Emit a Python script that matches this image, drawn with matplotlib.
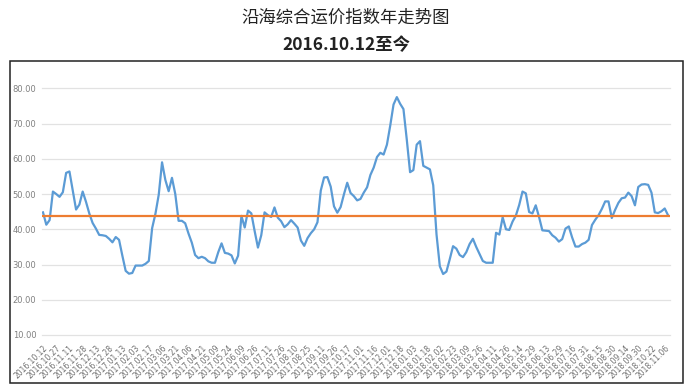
import matplotlib
matplotlib.use("Agg")
from matplotlib import pyplot as plt
from matplotlib.patches import Rectangle

plt.rcParams['font.family'] = ['Noto Sans CJK SC', 'DejaVu Sans']

# Index values (about 3 trading days per point).
index_values = [
    44.8, 41.3, 42.6, 50.7, 50.0, 49.2, 50.5, 56.0, 56.4, 51.0,
    45.6, 47.0, 50.7, 47.8, 44.5, 41.8, 40.2, 38.4, 38.3, 38.1,
    37.3, 36.3, 37.8, 37.0, 32.5, 28.2, 27.4, 27.6, 29.7, 29.7,
    29.7, 30.2, 31.0, 40.3, 44.4, 49.8, 59.0, 54.0, 50.8, 54.6,
    50.0, 42.4, 42.4, 41.7, 38.8, 36.2, 32.7, 31.8, 32.2, 31.8,
    30.9, 30.5, 30.5, 33.5, 36.0, 33.3, 33.1, 32.6, 30.3, 32.5,
    43.8, 40.5, 45.3, 44.5, 39.5, 34.8, 38.3, 44.8, 44.0, 43.5,
    46.2, 43.3, 42.3, 40.6, 41.4, 42.6, 41.6, 40.5, 36.8, 35.3,
    37.5, 38.9, 40.0, 42.0, 51.0, 54.7, 54.8, 52.1, 46.5, 44.7,
    46.3, 49.9, 53.2, 50.3, 49.4, 48.2, 48.6, 50.4, 51.9, 55.4,
    57.5, 60.5, 61.7, 61.2, 64.0, 69.4, 75.4, 77.5, 75.6, 74.1,
    65.5, 56.2, 56.8, 64.0, 65.0, 58.0, 57.5, 57.0, 52.5, 38.5,
    29.5, 27.3, 28.0, 31.5, 35.2, 34.5, 32.7, 32.1, 33.5, 35.8,
    37.3, 35.0, 33.0, 31.0, 30.5, 30.5, 30.5, 39.0, 38.5, 43.4,
    40.0, 39.8, 42.2, 43.9, 46.9, 50.7, 50.2, 44.9, 44.5, 46.8,
    43.5, 39.7, 39.6, 39.5, 38.3, 37.6, 36.5, 37.2, 40.2, 40.8,
    37.7, 35.1, 35.1, 35.8, 36.2, 37.0, 41.2, 42.7, 44.0, 45.8,
    47.9, 47.9, 43.2, 45.5, 47.5, 48.8, 49.0, 50.4, 49.4, 46.8,
    52.0, 52.7, 52.8, 52.6, 50.4, 44.8, 44.6, 45.1, 45.9, 44.0,
]
average_value = 43.7

date_labels = [
    '2016.10.12', '2016.10.27', '2016.11.11', '2016.11.28', '2016.12.13', '2016.12.28',
    '2017.01.13', '2017.02.03', '2017.02.17', '2017.03.06', '2017.03.21', '2017.04.06',
    '2017.04.21', '2017.05.09', '2017.05.24', '2017.06.09', '2017.06.26', '2017.07.11',
    '2017.07.26', '2017.08.10', '2017.08.25', '2017.09.11', '2017.09.26', '2017.10.17',
    '2017.11.01', '2017.11.16', '2017.12.01', '2017.12.18', '2018.01.03', '2018.01.18',
    '2018.02.02', '2018.02.23', '2018.03.09', '2018.03.26', '2018.04.11', '2018.04.26',
    '2018.05.14', '2018.05.29', '2018.06.13', '2018.06.29', '2018.07.16', '2018.07.31',
    '2018.08.15', '2018.08.30', '2018.09.14', '2018.09.30', '2018.10.22', '2018.11.06',
]
label_step = 4  # one date label every 4 points

y_ticks = [10, 20, 30, 40, 50, 60, 70, 80]

W, H = 692, 388
fig = plt.figure(figsize=(W / 100, H / 100), dpi=100)

# Outer frame around the chart
fig.patches.append(Rectangle((9.5 / W, 1 - 382.5 / H), 673 / W, 322 / H,
                             transform=fig.transFigure, fill=False,
                             edgecolor='#222222', linewidth=1.1))

# Titles
fig.text(0.5, 1 - 18 / H, '沿海综合运价指数年走势图', ha='center', va='center',
         fontsize=12.5, fontweight='medium', color='#222222')
fig.text(0.5, 1 - 45 / H, '2016.10.12至今', ha='center', va='center',
         fontsize=12.5, fontweight='bold', color='#222222')

ax = fig.add_axes([42 / W, 1 - 335 / H, 628 / W, (335 - 88.3) / H])

x = list(range(len(index_values)))
ax.plot(x, index_values, color='#5b9bd5', linewidth=1.6, zorder=3)
ax.axhline(average_value, color='#ed7d31', linewidth=1.6, zorder=4)

ax.set_ylim(10, 80)
ax.set_xlim(-0.3, 189.6)
ax.set_yticks(y_ticks)
ax.set_yticklabels([f'{v:.2f}' for v in y_ticks], fontsize=6, color='#808080',
                   family='DejaVu Sans')
ax.grid(axis='y', color='#e2e2e2', linewidth=0.9)
for gl in ax.get_ygridlines():
    gl.set_clip_on(False)
ax.set_axisbelow(True)

ticks = list(range(0, len(date_labels) * label_step, label_step))
ax.set_xticks(ticks)
ax.set_xticklabels(date_labels, rotation=45, ha='right', va='top',
                   rotation_mode='anchor', fontsize=5.5, color='#707070',
                   family='DejaVu Sans')
ax.tick_params(axis='both', length=0)
ax.tick_params(axis='y', pad=4)
ax.tick_params(axis='x', pad=6)

for side in ['top', 'right', 'left', 'bottom']:
    ax.spines[side].set_visible(False)

fig.savefig('out.png', dpi=100)
